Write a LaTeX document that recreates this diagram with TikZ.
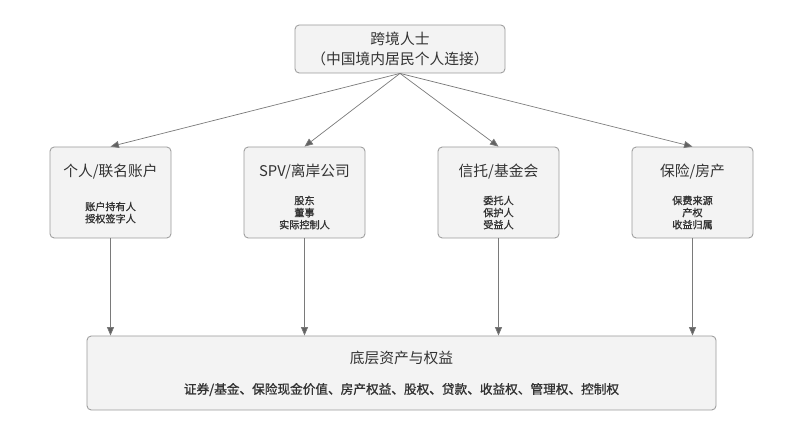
\documentclass[tikz,border=0pt]{standalone}
\usepackage{fontspec}
\setmainfont{Noto Sans CJK SC}
\newfontfamily\subfont[FakeBold=1.2]{Noto Sans CJK SC}
\usepackage{tikz}
\usetikzlibrary{arrows.meta,calc,positioning}

\definecolor{boxfill}{HTML}{F3F3F3}
\definecolor{boxline}{HTML}{9A9A9A}
\definecolor{txt}{HTML}{333333}
\definecolor{arrowline}{HTML}{7A7A7A}

\begin{document}
\begin{tikzpicture}[
  box/.style={draw=boxline, fill=boxfill, rounded corners=3pt, line width=0.6pt},
  titletext/.style={text=txt, font=\fontsize{10.5}{14}\selectfont, align=center},
  subtext/.style={text=txt, font=\subfont\fontsize{7.2}{8.6}\selectfont, align=center},
  link/.style={draw=arrowline, line width=0.5pt, -{Triangle[length=6pt,width=5pt,fill=arrowline!80!black]}}
]

\useasboundingbox (0,0) rectangle (20,10.825);

% Top box
\node (top) [box, minimum width=5.25cm, minimum height=1.2cm] at (10,9.6) {};
\node (toptext) [titletext] at (top.center) {跨境人士\\（中国境内居民个人连接）};

% Middle boxes
\node (acct)  [box, minimum width=3.025cm, minimum height=2.275cm] at (2.7625,6.0125) {};
\node (spv)   [box, minimum width=3.025cm, minimum height=2.275cm] at (7.6125,6.0125) {};
\node (trust) [box, minimum width=3.025cm, minimum height=2.275cm] at (12.4625,6.0125) {};
\node (ins)   [box, minimum width=3.025cm, minimum height=2.275cm] at (17.3125,6.0125) {};

\node (acctT)  [titletext] at ([yshift=-0.62cm]acct.north) {个人/联名账户};
\node (spvT)   [titletext] at ([yshift=-0.62cm]spv.north) {SPV/离岸公司};
\node (trustT) [titletext] at ([yshift=-0.62cm]trust.north) {信托/基金会};
\node (insT)   [titletext] at ([yshift=-0.62cm]ins.north) {保险/房产};

\node (acctS)  [subtext] at ([yshift=-1.65cm]acct.north) {账户持有人\\授权签字人};
\node (spvS)   [subtext] at ([yshift=-1.65cm]spv.north) {股东\\董事\\实际控制人};
\node (trustS) [subtext] at ([yshift=-1.65cm]trust.north) {委托人\\保护人\\受益人};
\node (insS)   [subtext] at ([yshift=-1.65cm]ins.north) {保费来源\\产权\\收益归属};

% Bottom box
\node (base) [box, minimum width=15.725cm, minimum height=1.85cm] at (10.0375,1.5) {};
\node (baseT) [titletext] at ([yshift=-0.55cm]base.north) {底层资产与权益};
\node (baseS) [subtext, font=\subfont\fontsize{9}{11}\selectfont] at ([yshift=-1.35cm]base.north) {证券/基金、保险现金价值、房产权益、股权、贷款、收益权、管理权、控制权};

% Arrows from top
\foreach \b in {acct,spv,trust,ins}
{
\draw[link] (top.south) -- (\b.north);
}

% Arrows down to base
\foreach \b in {acct,spv,trust,ins}
{
\draw[link] (\b.south) -- (\b.south |- base.north);
}

\end{tikzpicture}
\end{document}
